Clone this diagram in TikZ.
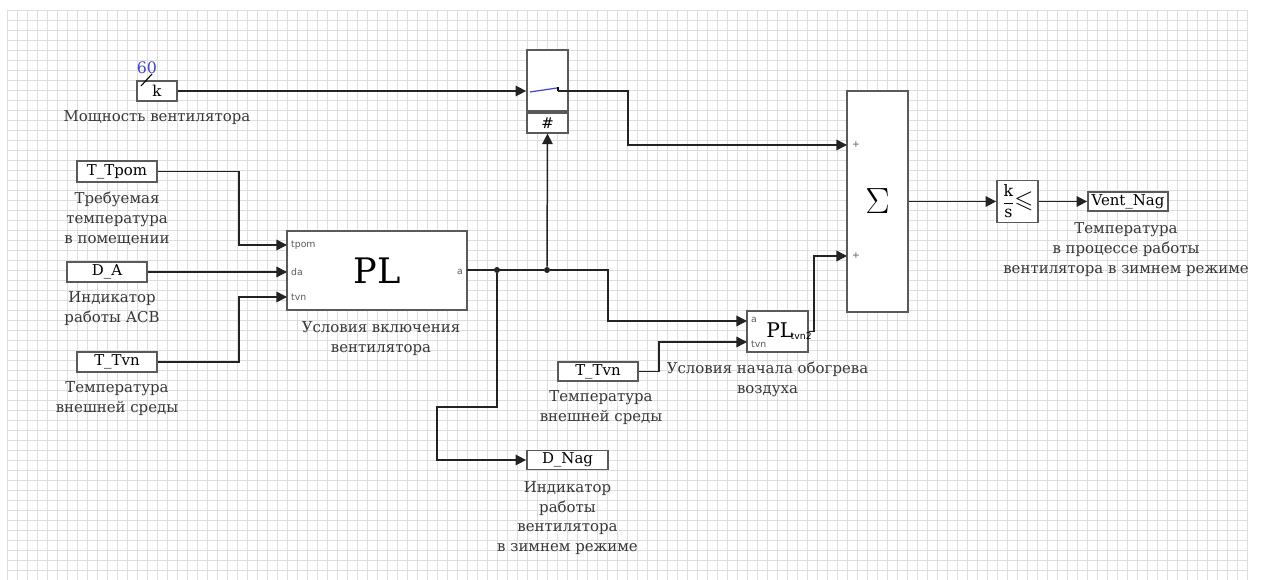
\documentclass[tikz,border=0pt]{standalone}
\usepackage{fontspec}
\usepackage{amsmath}
\usepackage{amssymb}
\setmainfont{DejaVu Serif}
\setsansfont{DejaVu Sans}
\usetikzlibrary{arrows.meta, positioning, calc}
\definecolor{blkgray}{RGB}{90,90,90}
\definecolor{wire}{RGB}{35,35,35}
\definecolor{gridgray}{RGB}{222,222,222}
\definecolor{parblue}{RGB}{70,70,205}
\definecolor{lbltext}{RGB}{55,55,55}

\begin{document}
\begin{tikzpicture}[x=0.02cm, y=-0.02cm,
  blk/.style={rectangle, draw=blkgray, fill=white, line width=1pt, inner sep=0pt, font=\fontsize{8.5}{10}\selectfont},
  lbl/.style={align=center, font=\fontsize{8.5}{11.3}\selectfont, text=lbltext, inner sep=1pt},
  port/.style={font=\fontsize{5.3}{6}\sffamily, text=black!65, inner sep=0.5pt},
  arr/.style={-{Triangle[length=6pt, width=6pt]}, line width=0.85pt, draw=wire},
  wir/.style={line width=0.85pt, draw=wire},
  jdot/.style={circle, fill=wire, inner sep=0pt, minimum size=3.4pt},
  gridline/.style={gridgray, line width=0.4pt}
]
\useasboundingbox (0,0) rectangle (1261,580);
\fill[white] (0,0) rectangle (1261,580);
\foreach \gx in {7,17,...,1247} \draw[gridline] (\gx,10) -- (\gx,580);
\foreach \gy in {10,20,...,580} \draw[gridline] (7,\gy) -- (1247,\gy);

% sources
\node[blk, minimum width=0.8cm, minimum height=0.4cm] (kblk) at (157,91) {k};
\node[font=\fontsize{9}{10}\selectfont, text=parblue, inner sep=0pt] (kpar) at (147,68) {60};
\draw[line width=0.6pt] (141,86) -- (152,74);
\node[lbl, below=4pt of kblk] (kpower) {Мощность вентилятора};

\node[blk, minimum width=1.6cm, minimum height=0.42cm] (ttpom) at (117,171.5) {T\_Tpom};
\node[lbl, below=4pt of ttpom] (ttpomlbl) {Требуемая\\температура\\в помещении};
\node[blk, minimum width=1.6cm, minimum height=0.4cm] (da) at (107,272) {D\_A};
\node[lbl, below=4pt of da, xshift=0.1cm] (dalbl) {Индикатор\\работы АСВ};
\node[blk, minimum width=1.6cm, minimum height=0.4cm] (ttvn) at (117,362) {T\_Tvn};
\node[lbl, below=4pt of ttvn] (ttvnlbl) {Температура\\внешней среды};

% PL block
\node[blk, minimum width=3.6cm, minimum height=1.58cm] (plblk) at (377,270.5) {\fontsize{20}{24}\selectfont PL};
\node[lbl, below=5pt of plblk, xshift=0.08cm] (pllbl) {Условия включения\\вентилятора};
\coordinate (pl-tpom) at (287,245);
\coordinate (pl-da) at (287,272);
\coordinate (pl-tvn) at (287,297);
\coordinate (pl-a) at (467,270);
\node[port, anchor=west] at (290,245) {tpom};
\node[port, anchor=west] at (290,272) {da};
\node[port, anchor=west] at (290,297) {tvn};
\node[port, anchor=east] at (464,272) {a};

% switch
\node[blk, minimum width=0.82cm, minimum height=1.22cm] (swblk) at (547.5,80.5) {};
\node[blk, minimum width=0.82cm, minimum height=0.4cm, below=0pt of swblk] (swnum) {\#};
\draw[parblue, line width=0.7pt] (530,92) -- (557,88);
\draw[line width=0.6pt] (558,87) -- (558,91);
\coordinate (swout) at (558,91);

% second PL block
\node[blk, minimum width=1.22cm, minimum height=0.82cm] (pl2) at (777.5,331.5) {};
\node[inner sep=0pt] (pl2txt) at (789,331) {\fontsize{11.5}{13}\selectfont PL\kern-1.5pt\raisebox{-1pt}{\fontsize{5.3}{6}\sffamily tvn2}};
\node[port, anchor=west] at (750,320) {a};
\node[port, anchor=west] at (750,344) {tvn};
\coordinate (pl2-a) at (747,321);
\coordinate (pl2-tvn) at (747,342);
\node[lbl, below=4pt of pl2, xshift=-0.2cm] (pl2lbl) {Условия начала обогрева\\воздуха};
\node[blk, minimum width=1.6cm, minimum height=0.38cm] (ttvn2) at (598,371.5) {T\_Tvn};
\node[lbl, below=4pt of ttvn2, xshift=0.06cm] (ttvn2lbl) {Температура\\внешней среды};

% sum and integrator
\node[blk, minimum width=1.22cm, minimum height=4.42cm] (sumblk) at (877.5,201.5) {\fontsize{20}{24}\selectfont$\Sigma$};
\coordinate (sum-in1) at (847,145);
\coordinate (sum-in2) at (847,256);
\node[port, anchor=west] at (851,145) {+};
\node[port, anchor=west] at (851,256) {+};
\node[blk, minimum width=0.82cm, minimum height=0.84cm] (intg) at (1017.5,201.5) {\fontsize{9}{10}\selectfont$\dfrac{\mathrm{k}}{\mathrm{s}}\mkern-1mu\text{\fontsize{14}{14}\selectfont$\leqslant$}$};
\node[blk, minimum width=1.6cm, minimum height=0.38cm] (ventnag) at (1128,201.5) {Vent\_Nag};
\node[lbl, below=5pt of ventnag, xshift=-0.04cm] (ventlbl) {Температура\\в процессе работы\\вентилятора в зимнем режиме};

% output indicator
\node[blk, minimum width=1.62cm, minimum height=0.38cm] (dnag) at (567.5,460) {D\_Nag};
\node[lbl, below=5pt of dnag] (dnaglbl) {Индикатор\\работы\\вентилятора\\в зимнем режиме};

% junctions
\node[jdot] (j1) at (497,270) {};
\node[jdot] (j2) at (547,270) {};

% wires
\draw[arr] (kblk.east) -- (kblk.east -| swblk.west);
\draw[arr] (swout) -- ++(70,0) |- (sum-in1);
\draw[arr] (ttpom.east) -- ++(81,0) |- (pl-tpom);
\draw[arr] (da.east) -- (pl-da);
\draw[arr] (ttvn.east) -- ++(81,0) |- (pl-tvn);
\draw[wir] (pl-a) -- (j2);
\draw[arr] (j2) -- (swnum.south);
\draw[arr] (j2) -- ++(61,0) |- (pl2-a);
\draw[arr] (j1) -- ++(0,137) -- ++(-60,0) |- (dnag.west);
\draw[arr] (ttvn2.east) -- ++(20,0) |- (pl2-tvn);
\draw[arr] (pl2.east) -- ++(5,0) |- (sum-in2);
\draw[arr] (sumblk.east) -- (intg.west);
\draw[arr] (intg.east) -- (ventnag.west);
\end{tikzpicture}
\end{document}
